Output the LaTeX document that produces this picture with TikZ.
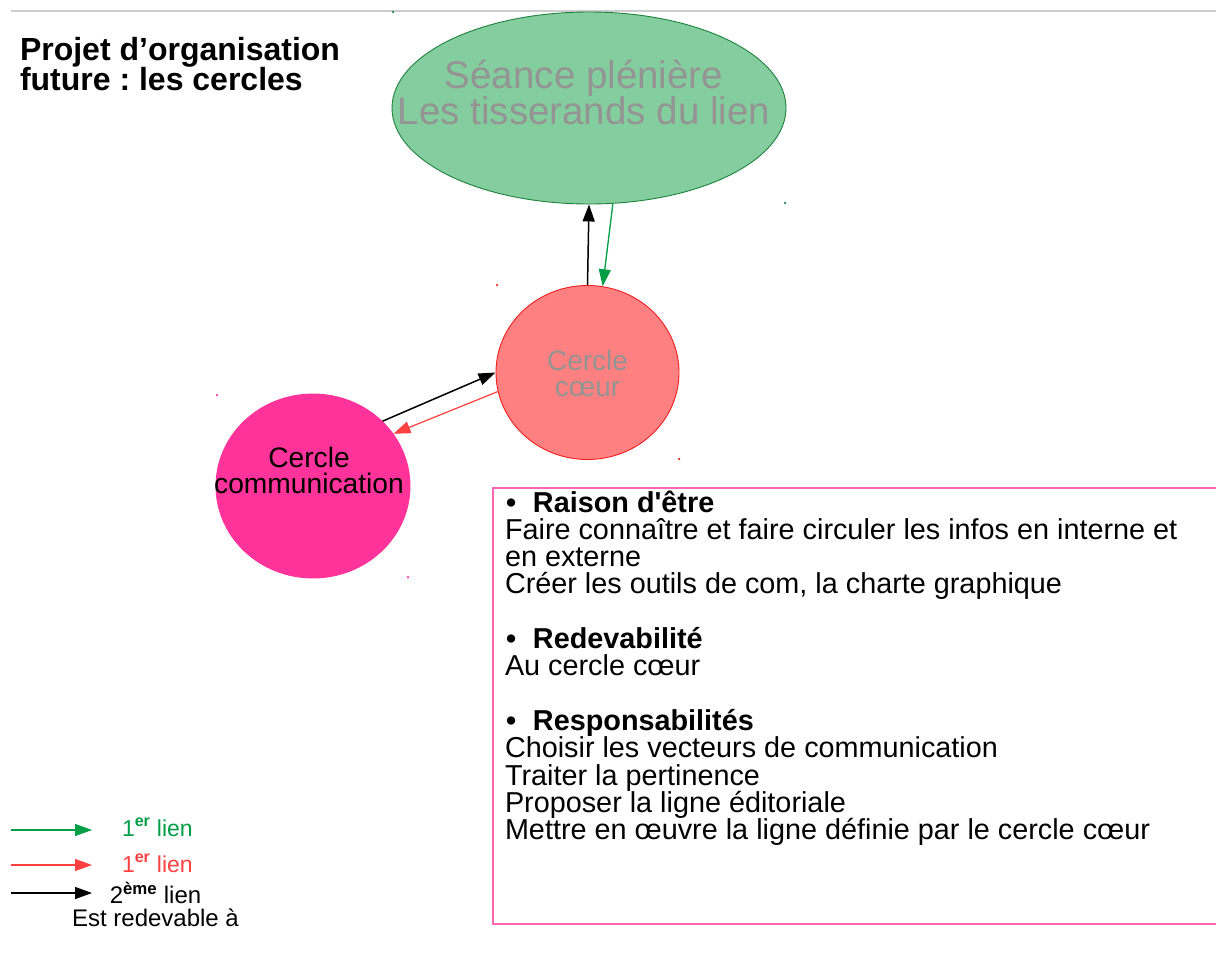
\documentclass[tikz,border=0pt]{standalone}
\usepackage{fontspec}
\setmainfont{Liberation Sans}
\usetikzlibrary{arrows.meta,shapes.geometric}
\definecolor{plenfill}{RGB}{132,205,158}
\definecolor{plenborder}{RGB}{30,130,60}
\definecolor{softgray}{RGB}{148,148,148}
\definecolor{coeurfill}{RGB}{255,128,128}
\definecolor{coeurborder}{RGB}{238,30,30}
\definecolor{compink}{RGB}{255,51,153}
\definecolor{linkgreen}{RGB}{0,158,70}
\definecolor{linkred}{RGB}{255,64,64}
\definecolor{boxpink}{RGB}{255,102,178}
\definecolor{rulegray}{RGB}{205,205,205}
\frenchspacing
\begin{document}
\begin{tikzpicture}[x=1pt,y=-1pt,
  txt/.style={inner sep=0pt, outer sep=0pt},
  blob/.style={ellipse, inner sep=0pt, line width=0.9pt},
  tipstyle/.style={-{Triangle[length=17pt,width=12pt]}},
  blacklink/.style={tipstyle, draw=black, line width=1.5pt},
  greenlink/.style={tipstyle, draw=linkgreen, fill=linkgreen, line width=1.3pt},
  redlink/.style={tipstyle, draw=linkred, fill=linkred, line width=1.2pt},
  handle/.style={circle, inner sep=0pt, minimum size=2.5pt},
  bul/.style={}]
\useasboundingbox (0,0) rectangle (1216,966);
\fill[white] (0,0) rectangle (1216,966);

% top rule
\coordinate (ruleL) at (11,11);
\coordinate (ruleR) at (1216,11);
\draw[rulegray, line width=1.5pt] (ruleL) -- (ruleR);

% title
\node[txt, anchor=north west, align=left, font=\fontsize{32}{29}\selectfont\bfseries] (title) at (20,35)
  {\rule{0pt}{25pt}Projet d’organisation\\future : les cercles};

% plenary ellipse
\node[blob, draw=plenborder, fill=plenfill, minimum width=394pt, minimum height=192pt] (plen) at (589,108) {};
\node[txt, anchor=north, align=center, text=softgray, font=\fontsize{38.5}{35}\selectfont] (plentxt) at (584,56)
  {\rule{0pt}{32pt}Séance plénière\\Les tisserands du lien};

% cercle coeur
\node[blob, draw=coeurborder, fill=coeurfill, minimum width=183pt, minimum height=174pt] (coeur) at (587.5,372.5) {};
\node[txt, anchor=north, align=center, text=softgray, font=\fontsize{28}{26}\selectfont] (coeurtxt) at (587.5,348)
  {\rule{0pt}{22pt}Cercle\\cœur};

% cercle communication
\node[blob, draw=compink, fill=compink, minimum width=194pt, minimum height=184pt] (comm) at (313,486) {};
\node[txt, anchor=north, align=center, text=black, font=\fontsize{28.2}{26}\selectfont] (commtxt) at (309,445)
  {\rule{0pt}{22pt}Cercle\\communication};

% selection handles
\node[handle, fill=plenborder] (h1) at (393,12) {};
\node[handle, fill=plenborder] (h2) at (785,203) {};
\node[handle, fill=coeurborder] (h3) at (497,285) {};
\node[handle, fill=coeurborder] (h4) at (679,459) {};
\node[handle, fill=compink] (h5) at (217,395) {};
\node[handle, fill=compink] (h6) at (408,577) {};

% links
\draw[blacklink] (coeur.north) -- (plen.south);
\draw[greenlink] (plen.-76.7) -- (coeur.80);
\draw[blacklink] (comm.43) -- (coeur.180);
\draw[redlink] (coeur.192) -- (comm.33);

% description box
\node[draw=boxpink, line width=1.8pt, minimum width=740pt, minimum height=436pt, anchor=north west, inner sep=0pt] (descbox) at (492,487) {};
\node[txt, anchor=north west, align=left, font=\fontsize{28.8}{27.3}\selectfont] (desctxt) at (505,488)
  {\rule{0pt}{24pt}\makebox[28pt][l]{\hspace{1pt}\textbf{•}}\textbf{Raison d\textquotesingle être}\\
   Faire connaître et faire circuler les infos en interne et\\
   en externe\\
   Créer les outils de com, la charte graphique\\[27.3pt]
   \makebox[28pt][l]{\hspace{1pt}\textbf{•}}\textbf{Redevabilité}\\
   Au cercle cœur\\[27.3pt]
   \makebox[28pt][l]{\hspace{1pt}\textbf{•}}\textbf{Responsabilités}\\
   Choisir les vecteurs de communication\\
   Traiter la pertinence\\
   Proposer la ligne éditoriale\\
   Mettre en œuvre la ligne définie par le cercle cœur};

% legend
\coordinate (lgA) at (11,830);
\coordinate (lgAe) at (92,830);
\coordinate (lgB) at (11,865);
\coordinate (lgBe) at (92,865);
\coordinate (lgC) at (11,893);
\coordinate (lgCe) at (92,893);
\draw[greenlink] (lgA) -- (lgAe);
\draw[redlink] (lgB) -- (lgBe);
\draw[blacklink] (lgC) -- (lgCe);
\node[txt, anchor=base west, text=linkgreen, font=\fontsize{23}{23}\selectfont] (lgAtxt) at (122,836) {1\textsuperscript{\bfseries er} lien};
\node[txt, anchor=base west, text=linkred, font=\fontsize{23}{23}\selectfont] (lgBtxt) at (122,872) {1\textsuperscript{\bfseries er} lien};
\node[txt, anchor=north, align=center, font=\fontsize{24}{23}\selectfont] (lgCtxt) at (155.5,882)
  {\rule{0pt}{18pt}2\textsuperscript{\bfseries ème} lien\\Est redevable à};
\end{tikzpicture}
\end{document}
